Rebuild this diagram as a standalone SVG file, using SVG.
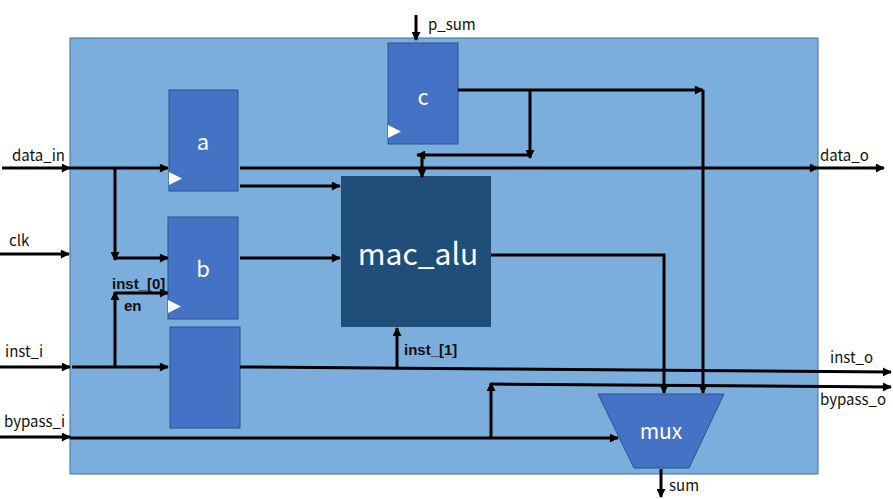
<svg xmlns="http://www.w3.org/2000/svg" width="893" height="499" viewBox="0 0 893 499">
<style>
.blk{fill:#4472C4;stroke:#2F528F;stroke-width:1}
.w{stroke:#000;stroke-width:3;fill:none}
.a{marker-end:url(#ah)}
.lbl{font-family:"Noto Sans CJK SC","Liberation Sans",sans-serif;font-size:15px;fill:#111}
.b{font-family:"Liberation Sans",sans-serif;font-size:15px;font-weight:bold;fill:#111}
.in{font-family:"Noto Sans CJK SC","Liberation Sans",sans-serif;fill:#fff;text-anchor:middle}
.clkt{fill:#fff}
</style>
<defs>
<marker id="ah" viewBox="0 0 10 10" refX="9" refY="5" markerWidth="10" markerHeight="9" markerUnits="userSpaceOnUse" orient="auto">
<path d="M0,0 L10,5 L0,10 z" fill="#000"/>
</marker>
</defs>
<rect width="893" height="499" fill="#fff"/>
<g id="top">
<rect x="70" y="38" width="748" height="436" fill="#7BAEDC" stroke="#41719C" stroke-width="1"/>
</g>
<g id="reg_a">
<rect class="blk" x="169" y="90" width="69" height="101"/>
<polygon class="clkt" points="169,172 182,178.5 169,185"/>
<text class="in" x="203" y="150" font-size="22">a</text>
</g>
<g id="reg_b">
<rect class="blk" x="168" y="217" width="70" height="102"/>
<polygon class="clkt" points="168,300 181,306.5 168,313"/>
<text class="in" x="203" y="277" font-size="22">b</text>
</g>
<g id="reg_inst">
<rect class="blk" x="170" y="327" width="70" height="101"/>
</g>
<g id="reg_c">
<rect class="blk" x="388" y="43" width="70" height="101"/>
<polygon class="clkt" points="388,125 401,131.5 388,138"/>
<text class="in" x="423" y="105" font-size="22">c</text>
</g>
<g id="mac_alu">
<rect x="341" y="176" width="150" height="151" fill="#1F4E79"/>
<text class="in" x="418" y="265" font-size="30">mac_alu</text>
</g>
<g id="mux">
<polygon points="598,394 724,394 689,468 634,468" fill="#4472C4" stroke="#2F528F" stroke-width="1"/>
<text class="in" x="661" y="439" font-size="21">mux</text>
</g>
<g id="connectors">
<line class="w a" x1="2" y1="168" x2="70" y2="168"/>
<line class="w a" x1="70" y1="168" x2="168" y2="168"/>
<line class="w a" x1="115" y1="168" x2="115" y2="260"/>
<line class="w a" x1="115" y1="258" x2="168" y2="258"/>
<line class="w a" x1="115" y1="367" x2="115" y2="292"/>
<line class="w a" x1="115" y1="293" x2="168" y2="293"/>
<line class="w a" x1="0" y1="254" x2="69" y2="254"/>
<line class="w a" x1="0" y1="367" x2="70" y2="367"/>
<line class="w a" x1="72" y1="367" x2="168" y2="367"/>
<line class="w a" x1="0" y1="437" x2="70" y2="437"/>
<line class="w a" x1="70" y1="438" x2="618" y2="438"/>
<line class="w a" x1="240" y1="168" x2="818" y2="168"/>
<line class="w a" x1="818" y1="168" x2="884" y2="168"/>
<line class="w a" x1="240" y1="186" x2="340" y2="186"/>
<line class="w a" x1="240" y1="258" x2="340" y2="258"/>
<polyline class="w a" points="491,255 664,255 664,393"/>
<polyline class="w a" points="458,90 703,90"/>
<line class="w a" x1="703" y1="90" x2="703" y2="393"/>
<line class="w a" x1="530" y1="90" x2="530" y2="158"/>
<line class="w a" x1="530" y1="155" x2="417" y2="155"/>
<line class="w a" x1="422" y1="155" x2="422" y2="177"/>
<line class="w a" x1="416" y1="15" x2="416" y2="40"/>
<polyline class="w a" points="240,367 500,369 891,372"/>
<line class="w a" x1="397" y1="368" x2="397" y2="328"/>
<line class="w a" x1="491" y1="437" x2="491" y2="383"/>
<polyline class="w a" points="491,384 891,387"/>
<line class="w a" x1="661" y1="469" x2="661" y2="497"/>
</g>
<g id="labels">
<text class="lbl" x="12" y="161">data_in</text>
<text class="lbl" x="9" y="246">clk</text>
<text class="lbl" x="5" y="357">inst_i</text>
<text class="lbl" x="4" y="427">bypass_i</text>
<text class="b" x="112" y="289">inst_[0]</text>
<text class="b" x="124" y="311">en</text>
<text class="b" x="404" y="355">inst_[1]</text>
<text class="lbl" x="820" y="161">data_o</text>
<text class="lbl" x="830" y="363">inst_o</text>
<text class="lbl" x="820" y="405">bypass_o</text>
<text class="lbl" x="428" y="30">p_sum</text>
<text class="lbl" x="669" y="491">sum</text>
</g>
</svg>
